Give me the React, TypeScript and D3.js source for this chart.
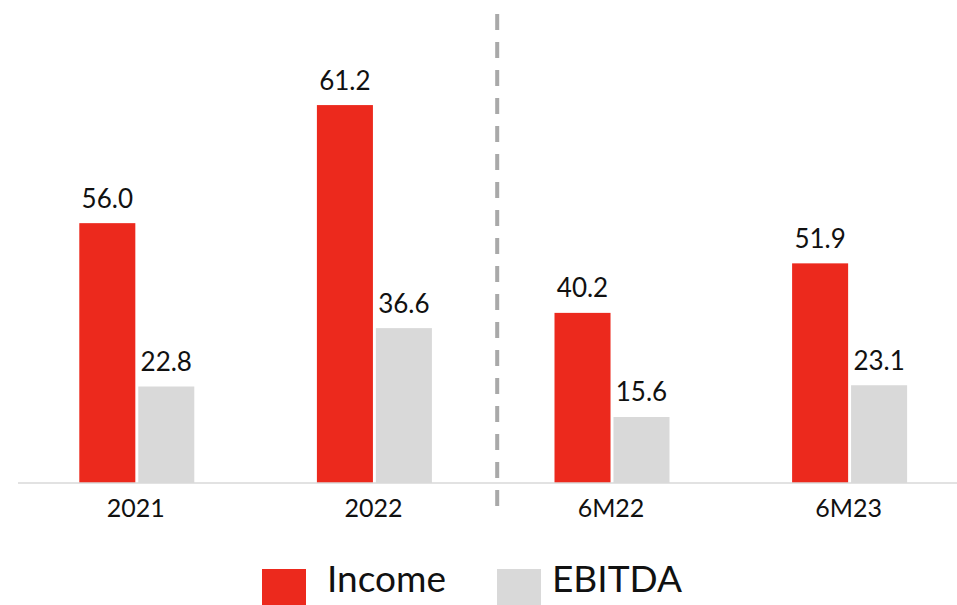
import React from "react";
import * as d3 from "d3";

const categories = ["2021", "2022", "6M22", "6M23"];
const seriesNames = ["Income", "EBITDA"];
// bar heights as drawn in the picture
const incomeValues = [61.4, 89.3, 40.2, 51.9];
const ebitdaValues = [22.8, 36.6, 15.6, 23.1];
// printed value labels
const incomeLabels = ["56.0", "61.2", "40.2", "51.9"];
const ebitdaLabels = ["22.8", "36.6", "15.6", "23.1"];
const yDomainMax = 100;

const W = 957;
const H = 605;
const FONT = "Lato, 'Noto Sans', sans-serif";
const COLORS: Record<string, string> = { Income: "#EC291D", EBITDA: "#D9D9D9" };

export default function App() {
  const baseline = 483;
  const x0 = d3.scaleBand<string>().domain(categories).range([18, 968.4]).padding(0);
  const x1 = d3.scaleBand<string>().domain(seriesNames).range([-57.5, 57.5]).paddingInner(0.05);
  const y = d3.scaleLinear().domain([0, yDomainMax]).range([baseline, baseline - 4.232 * yDomainMax]);

  const series = [
    { name: "Income", values: incomeValues, labels: incomeLabels },
    { name: "EBITDA", values: ebitdaValues, labels: ebitdaLabels },
  ];

  const center = (c: string) => (x0(c) as number) + x0.bandwidth() / 2;
  const sepX = (x0("6M22") as number) + 4;

  const legendItems = [
    { name: "Income", rx: 262, tx: 327 },
    { name: "EBITDA", rx: 497, tx: 552 },
  ];

  return (
    <svg
      width={W}
      height={H}
      style={{ position: "absolute", left: 0, top: 0, background: "#fff" }}
      fontFamily={FONT}
      fontWeight={400}
    >
      {series.map((s) =>
        categories.map((c, i) => {
          const bx = center(c) + (x1(s.name) as number);
          const by = y(s.values[i]);
          return (
            <g key={s.name + c}>
              <rect
                x={bx}
                y={by}
                width={x1.bandwidth()}
                height={baseline - by}
                fill={COLORS[s.name]}
              />
              <text
                x={bx + x1.bandwidth() / 2}
                y={by - 15.5}
                textAnchor="middle"
                fontSize={26}
                fill="#111"
              >
                {s.labels[i]}
              </text>
            </g>
          );
        })
      )}
      <line x1={18} x2={W} y1={baseline} y2={baseline} stroke="#d9d9d9" strokeWidth={1.5} />
      <line
        x1={sepX}
        x2={sepX}
        y1={14}
        y2={506}
        stroke="#a9a9a9"
        strokeWidth={4}
        strokeDasharray="16 12"
      />
      {categories.map((c) => (
        <text key={c} x={center(c) - 1} y={517} textAnchor="middle" fontSize={25} fill="#111">
          {c}
        </text>
      ))}
      {legendItems.map((l) => (
        <g key={l.name}>
          <rect x={l.rx} y={569} width={44} height={44} fill={COLORS[l.name]} />
          <text x={l.tx} y={592} fontSize={37} fill="#111">
            {l.name}
          </text>
        </g>
      ))}
    </svg>
  );
}
